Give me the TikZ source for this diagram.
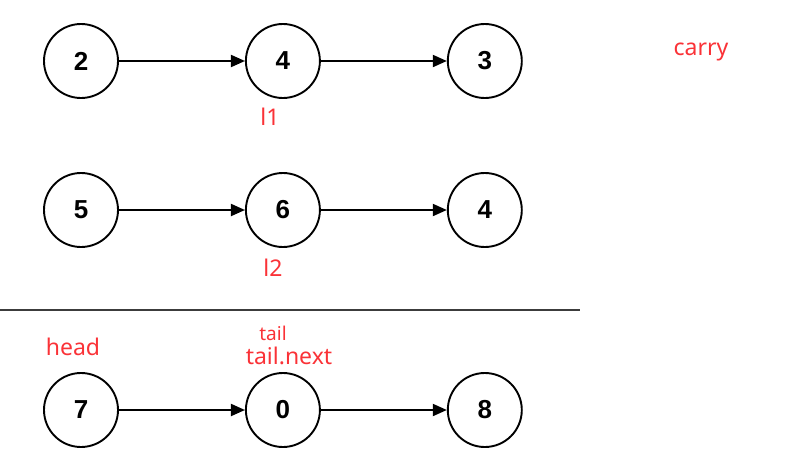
\documentclass[tikz,border=0pt]{standalone}
\usepackage{fontspec}
\setmainfont{Liberation Sans}
\newfontfamily\labelfont{Noto Sans}
\usetikzlibrary{positioning, arrows.meta}
\definecolor{ptrred}{RGB}{250,50,55}
\definecolor{rulegray}{RGB}{60,60,60}
\tikzset{
  % --- list nodes ---
  listnode/.style={draw, circle, minimum size=74pt, inner sep=0pt,
    line width=1.9pt, font=\fontsize{26}{26}\selectfont\bfseries},
  nextptr/.style={-{Triangle[length=14pt, width=12pt]}, line width=1.9pt},
  % --- pointer labels ---
  ptrlabel/.style={text=ptrred, inner sep=0pt,
    font=\labelfont\fontsize{23}{23}\selectfont},
  ptrsmall/.style={ptrlabel, font=\labelfont\fontsize{19}{19}\selectfont},
}
\begin{document}
\begin{tikzpicture}[x=1pt, y=-1pt]
    \useasboundingbox (0,0) rectangle (795,450);
    % ---- l1 ----
    \node[listnode] (a1) at (81,61) {2};
    \node[listnode, right=126pt of a1] (a2) {4};
    \node[listnode, right=126pt of a2] (a3) {3};
    % ---- l2 ----
    \node[listnode] (b1) at (81,210) {5};
    \node[listnode, right=126pt of b1] (b2) {6};
    \node[listnode, right=126pt of b2] (b3) {4};
    % ---- result ----
    \node[listnode] (c1) at (81,410) {7};
    \node[listnode, right=126pt of c1] (c2) {0};
    \node[listnode, right=126pt of c2] (c3) {8};
    % ---- next pointers ----
    \foreach \r in {a,b,c}{
      \draw[nextptr] (\r1) -- (\r2);
      \draw[nextptr] (\r2) -- (\r3);
    }
    % ---- separator ----
    \coordinate (sepL) at (0,310);
    \coordinate (sepR) at (580,310);
    \draw[line width=2.2pt, rulegray] (sepL) -- (sepR);
    % ---- pointer labels ----
    \node[ptrlabel] (l1) at (270,117) {l1};
    \node[ptrlabel] (l2) at (273,268) {l2};
    \node[ptrlabel] (carry) at (701,52) {carry};
    \node[ptrlabel] (head) at (73,347) {head};
    \node[ptrsmall] (tail) at (273,333) {tail};
    \node[ptrlabel] (tailnext) at (289,356) {tail.next};
  \end{tikzpicture}
\end{document}
